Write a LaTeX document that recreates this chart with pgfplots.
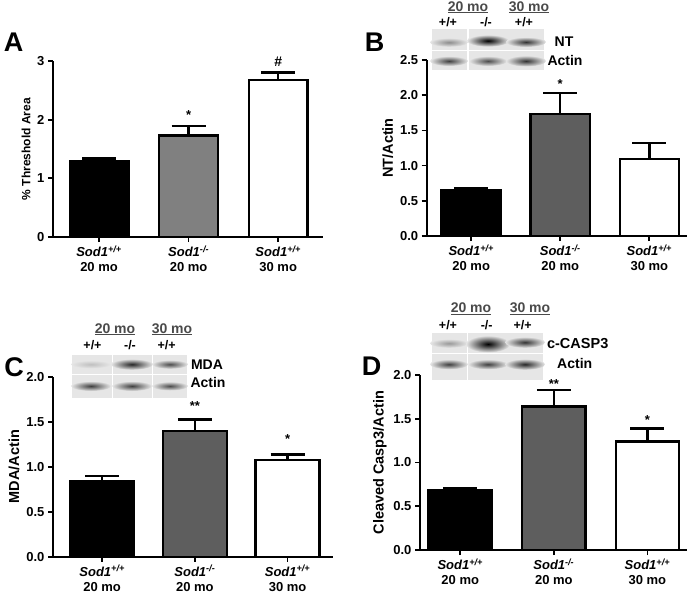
\documentclass[border=0pt]{standalone}
\usepackage{fontspec}
\setmainfont{Liberation Sans}
\usepackage{pgfplots}
\pgfplotsset{compat=1.18}

\definecolor{gA}{HTML}{808080}
\definecolor{gB}{HTML}{5E5E5E}
\definecolor{blotbg}{HTML}{E6E6E6}
\definecolor{hdr}{HTML}{4A4A4A}

\newcommand\lbl{\bfseries\fontsize{13}{15.5}\selectfont}
\newcommand\blbl{\bfseries\fontsize{14}{16}\selectfont}
\newcommand\sml{\bfseries\fontsize{12.5}{15}\selectfont}
% band of a blot: x, y (pixels from top), half length, half height, darkness
\newcommand\band[5]{\shade[inner color=black!#5, outer color=blotbg] (#1pt,-#2pt) ellipse (#3pt+3pt and #4pt+1pt);}
\newcommand\strip[4]{\fill[blotbg] (#1pt,-#2pt) rectangle (#3pt,-#4pt);}

\pgfplotsset{
  panel/.style={
    scale only axis, anchor=south west, clip=false,
    axis x line*=bottom, axis y line*=left,
    axis line style={line width=1.9pt, black},
    tick style={line width=1.7pt, black},
    major tick length=5pt, tick align=outside,
    ymin=0, xtick={0,1,2},
    xticklabels={{\textit{Sod1}\textsuperscript{\textit{+/+}}\\20 mo},
                 {\textit{Sod1}\textsuperscript{\textit{-/-}}\\20 mo},
                 {\textit{Sod1}\textsuperscript{\textit{+/+}}\\30 mo}},
    xticklabel style={align=center, font=\lbl},
    yticklabel style={font=\lbl},
    ylabel style={font=\bfseries\fontsize{14.5}{16}\selectfont},
    /pgf/number format/assume math mode=true,
  },
  dec/.style={yticklabel style={/pgf/number format/.cd, fixed, fixed zerofill, precision=1}},
  gbar/.style={ybar, bar shift=0pt, draw=black, line width=2.4pt,
    error bars/y dir=plus, error bars/y explicit,
    error bars/error mark=|,
    error bars/error bar style={line width=2.4pt, black},
    error bars/error mark options={line width=2.4pt, black, mark size=17pt}},
}

\begin{document}
\begin{tikzpicture}
\path[use as bounding box] (0pt,0pt) rectangle (699pt,-595pt);

% ---------------- A
\begin{axis}[panel, at={(53pt,-237pt)}, width=270pt, height=176pt,
  xmin=-0.514, xmax=2.5, ymax=3, ytick={0,1,2,3},
  ylabel={\% Threshold Area}, ylabel style={font=\bfseries\fontsize{12}{14}\selectfont}]
  \addplot[gbar, fill=black, bar width=0.655] coordinates {(0,1.287) +- (0,0.05)};
  \addplot[gbar, fill=gA, bar width=0.655] coordinates {(1,1.73) +- (0,0.165)};
  \addplot[gbar, fill=white, bar width=0.655] coordinates {(2,2.677) +- (0,0.13)};
  \node[anchor=base, font=\lbl] at (axis cs:1,2.01) {*};
  \node[anchor=base, font=\bfseries\fontsize{14}{16}\selectfont] at (axis cs:2,2.90) {\#};
\end{axis}

% ---------------- B
\begin{axis}[panel, dec, at={(426.7pt,-236pt)}, width=260pt, height=176pt,
  xmin=-0.5, xmax=2.42, ymax=2.5, ytick={0,0.5,1,1.5,2,2.5},
  ylabel={NT/Actin}]
  \addplot[gbar, fill=black, bar width=0.665] coordinates {(0,0.644) +- (0,0.035)};
  \addplot[gbar, fill=gB, bar width=0.665] coordinates {(1,1.733) +- (0,0.30)};
  \addplot[gbar, fill=white, bar width=0.665] coordinates {(2,1.098) +- (0,0.22)};
  \node[anchor=base, font=\lbl] at (axis cs:1,2.09) {*};
\end{axis}

% ---------------- C
\begin{axis}[panel, dec, at={(53pt,-556.7pt)}, width=280pt, height=180pt,
  xmin=-0.53, xmax=2.49, ymax=2, ytick={0,0.5,1,1.5,2},
  ylabel={MDA/Actin}]
  \addplot[gbar, fill=black, bar width=0.69] coordinates {(0,0.844) +- (0,0.05)};
  \addplot[gbar, fill=gB, bar width=0.69] coordinates {(1,1.396) +- (0,0.13)};
  \addplot[gbar, fill=white, bar width=0.69] coordinates {(2,1.074) +- (0,0.06)};
  \node[anchor=base, font=\lbl] at (axis cs:1,1.63) {**};
  \node[anchor=base, font=\lbl] at (axis cs:2,1.26) {*};
\end{axis}

% ---------------- D
\begin{axis}[panel, dec, at={(420pt,-550pt)}, width=266.7pt, height=175pt,
  xmin=-0.43, xmax=2.42, ymax=2, ytick={0,0.5,1,1.5,2},
  ylabel={Cleaved Casp3/Actin}]
  \addplot[gbar, fill=black, bar width=0.675] coordinates {(0,0.686) +- (0,0.026)};
  \addplot[gbar, fill=gB, bar width=0.675] coordinates {(1,1.638) +- (0,0.19)};
  \addplot[gbar, fill=white, bar width=0.675] coordinates {(2,1.238) +- (0,0.15)};
  \node[anchor=base, font=\lbl] at (axis cs:1,1.85) {**};
  \node[anchor=base, font=\lbl] at (axis cs:2,1.44) {*};
\end{axis}

% panel letters
\begin{scope}[font=\bfseries\fontsize{27}{29}\selectfont]
  \node at (13.5pt,-42.5pt) {A};
  \node at (374.5pt,-42pt) {B};
  \node at (14pt,-367pt) {C};
  \node at (371.5pt,-366pt) {D};
\end{scope}

% blot B
\strip{431.7}{29.3}{466.7}{50}\strip{469.3}{29.3}{506.7}{50}\strip{507.3}{29.3}{544}{50}
\strip{431.7}{51}{466.7}{70}\strip{469.3}{51}{506.7}{70}\strip{507.3}{51}{544}{70}
\band{449}{42.3}{16}{3.5}{45}\band{488}{40.7}{18}{5}{100}\band{526}{42}{17}{4}{80}
\band{449}{61}{16}{4}{75}\band{488}{61}{16}{4}{70}\band{526}{61}{17}{4.5}{80}
\node[anchor=base, text=hdr, font=\blbl] at (468pt,-11pt) {\underline{20 mo}};
\node[anchor=base, text=hdr, font=\blbl] at (529pt,-11pt) {\underline{30 mo}};
\begin{scope}[font=\sml]
  \node[anchor=base] at (448pt,-26pt) {+/+};
  \node[anchor=base] at (486pt,-26pt) {-/-};
  \node[anchor=base] at (524pt,-26pt) {+/+};
\end{scope}
\node[anchor=base, font=\blbl] at (564pt,-46.7pt) {NT};
\node[anchor=base, font=\blbl] at (565pt,-65pt) {Actin};

% blot C
\strip{71.7}{355}{111.7}{374}\strip{113.3}{355}{151.7}{374}\strip{153.3}{355}{186.7}{374}
\strip{71.7}{375}{111.7}{398}\strip{113.3}{375}{151.7}{398}\strip{153.3}{375}{186.7}{398}
\band{91}{364.3}{17}{3}{25}\band{132}{364.3}{18}{4.5}{85}\band{170}{364.3}{15}{3.5}{70}
\band{91}{386}{17}{4}{75}\band{132}{386}{17}{4}{75}\band{170}{386}{15}{3.5}{70}
\node[anchor=base, text=hdr, font=\blbl] at (115pt,-333pt) {\underline{20 mo}};
\node[anchor=base, text=hdr, font=\blbl] at (172pt,-333pt) {\underline{30 mo}};
\begin{scope}[font=\sml]
  \node[anchor=base] at (92.5pt,-349pt) {+/+};
  \node[anchor=base] at (130pt,-349pt) {-/-};
  \node[anchor=base] at (166.7pt,-349pt) {+/+};
\end{scope}
\node[anchor=base, font=\blbl] at (207pt,-369pt) {MDA};
\node[anchor=base, font=\blbl] at (208pt,-387pt) {Actin};

% blot D
\strip{431.7}{333.3}{466.7}{353.3}\strip{468.3}{333.3}{506.7}{353.3}\strip{507.3}{333.3}{543.3}{353.3}
\strip{431.7}{354.3}{466.7}{380}\strip{468.3}{354.3}{506.7}{380}\strip{507.3}{354.3}{543.3}{380}
\band{449}{343.3}{16}{3.5}{40}\band{488}{344}{19}{7.5}{100}\band{525}{342.3}{17}{4.5}{80}
\band{449}{364.3}{16}{4}{75}\band{488}{364.3}{17}{4}{75}\band{525}{364.3}{17}{4.5}{85}
\node[anchor=base, text=hdr, font=\blbl] at (471pt,-312.5pt) {\underline{20 mo}};
\node[anchor=base, text=hdr, font=\blbl] at (530pt,-312.5pt) {\underline{30 mo}};
\begin{scope}[font=\sml]
  \node[anchor=base] at (448pt,-329pt) {+/+};
  \node[anchor=base] at (486.7pt,-329pt) {-/-};
  \node[anchor=base] at (522.7pt,-329pt) {+/+};
\end{scope}
\node[anchor=base, font=\bfseries\fontsize{14.5}{16}\selectfont] at (577.7pt,-348pt) {c-CASP3};
\node[anchor=base, font=\blbl] at (574.7pt,-368pt) {Actin};
\end{tikzpicture}
\end{document}
